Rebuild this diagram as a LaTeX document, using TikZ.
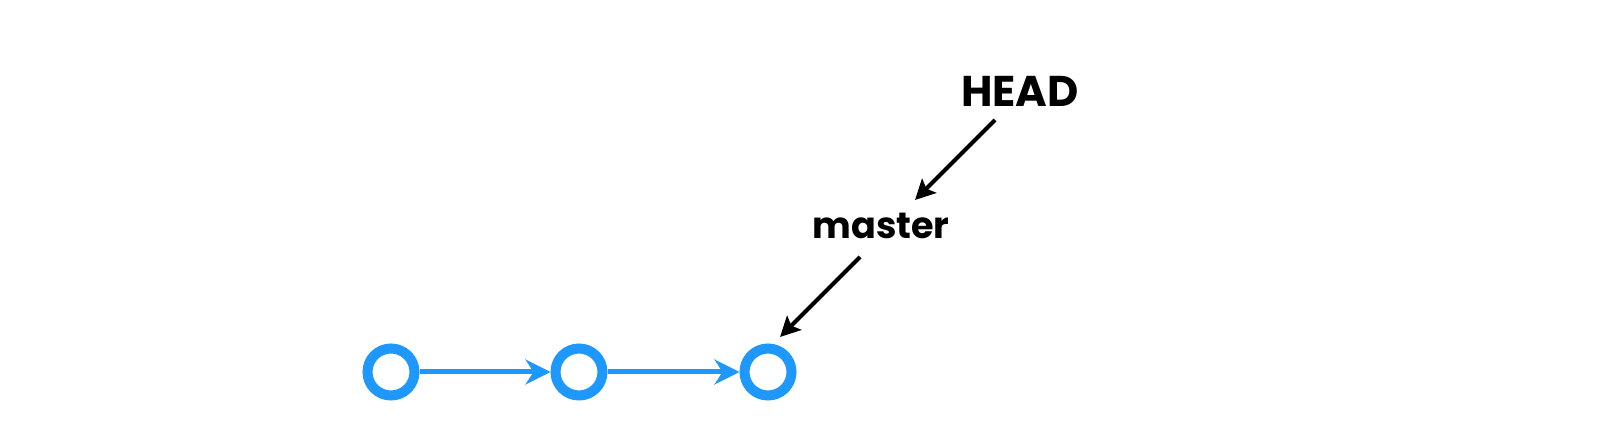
\documentclass[tikz,border=0pt]{standalone}
\usepackage{fontspec}
\setmainfont{Poppins}
\usetikzlibrary{arrows.meta}
\definecolor{commitblue}{RGB}{30,152,252}
\tikzset{
  commit/.style={circle,draw=commitblue,fill=white,line width=5pt,minimum size=23.5pt,inner sep=0pt},
  chain/.style={draw=commitblue,line width=2.5pt,-{Stealth[length=12.5pt,width=12.5pt,inset=4pt]}},
  ptr/.style={draw=black,line width=2pt,-{Stealth[length=10pt,width=10pt,inset=2pt]}},
  lbl/.style={font=\bfseries,inner sep=0pt,anchor=base}
}
\begin{document}
\begin{tikzpicture}[x=0.5pt,y=-0.5pt]
\useasboundingbox (0,0) rectangle (1600,442);
\node[lbl,font=\fontsize{21.5}{24}\selectfont\bfseries] (head) at (1020,107) {HEAD};
\node[lbl,font=\fontsize{18.3}{20}\selectfont\bfseries] (master) at (881,239) {master};
\node[commit] (c1) at (391,372) {};
\node[commit] (c2) at (579,372) {};
\node[commit] (c3) at (768,372) {};
\draw[chain] (c1) -- (c2);
\draw[chain] (c2) -- (c3);
\coordinate (hs) at (995,120);
\coordinate (mt) at (915,200);
\coordinate (ms) at (860,257);
\coordinate (ct) at (780,337);
\draw[ptr] (hs) -- (mt);
\draw[ptr] (ms) -- (ct);
\end{tikzpicture}
\end{document}
